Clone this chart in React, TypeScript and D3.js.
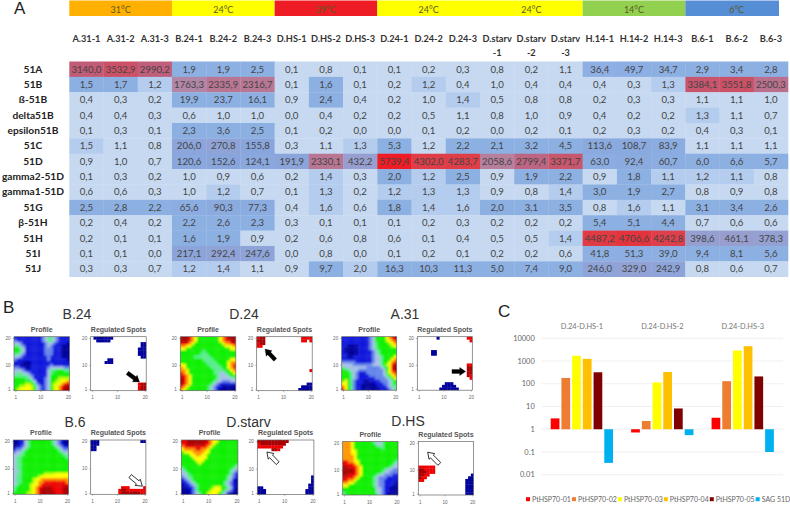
import { useEffect, useRef } from "react";
import * as d3 from "d3";

// ---- panel A data
const conditions = ["31°C", "24°C", "39°C", "24°C", "24°C", "14°C", "6°C"];
const conditionColors = ["#ffb000", "#ffff00", "#ee1c25", "#ffff00", "#ffff00", "#92d050", "#558ed5"];
const conditionSpans = [3, 3, 3, 3, 3, 3, 3];

const samples = [
  "A.31-1", "A.31-2", "A.31-3", "B.24-1", "B.24-2", "B.24-3", "D.HS-1", "D.HS-2", "D.HS-3",
  "D.24-1", "D.24-2", "D.24-3", "D.starv|-1", "D.starv|-2", "D.starv|-3",
  "H.14-1", "H.14-2", "H.14-3", "B.6-1", "B.6-2", "B.6-3",
];
const genes = [
  "51A", "51B", "ß-51B", "delta51B", "epsilon51B", "51C", "51D",
  "gamma2-51D", "gamma1-51D", "51G", "β-51H", "51H", "51I", "51J",
];
const expression = [
  [3140.0, 3532.9, 2990.2, 1.9, 1.9, 2.5, 0.1, 0.8, 0.1, 0.1, 0.2, 0.3, 0.8, 0.2, 1.1, 36.4, 49.7, 34.7, 2.9, 3.4, 2.8],
  [1.5, 1.7, 1.2, 1763.3, 2335.9, 2316.7, 0.1, 1.6, 0.1, 0.2, 1.2, 0.4, 1.0, 0.4, 0.4, 0.4, 0.3, 1.3, 3384.1, 3551.8, 2500.3],
  [0.4, 0.3, 0.2, 19.9, 23.7, 16.1, 0.9, 2.4, 0.4, 0.2, 1.0, 1.4, 0.5, 0.8, 0.8, 0.2, 0.3, 0.3, 1.1, 1.1, 1.0],
  [0.4, 0.4, 0.3, 0.6, 1.0, 1.0, 0.0, 0.4, 0.2, 0.2, 0.5, 1.1, 0.8, 1.0, 0.9, 0.4, 0.2, 0.2, 1.3, 1.1, 0.7],
  [0.1, 0.3, 0.1, 2.3, 3.6, 2.5, 0.1, 0.2, 0.0, 0.0, 0.1, 0.2, 0.0, 0.2, 0.1, 0.2, 0.3, 0.2, 0.4, 0.3, 0.1],
  [1.5, 1.1, 0.8, 206.0, 270.8, 155.8, 0.3, 1.1, 1.3, 5.3, 1.2, 2.2, 2.1, 3.2, 4.5, 113.6, 108.7, 83.9, 1.1, 1.1, 1.1],
  [0.9, 1.0, 0.7, 120.6, 152.6, 124.1, 191.9, 2330.1, 432.2, 5739.4, 4302.0, 4283.7, 2058.6, 2799.4, 3371.7, 63.0, 92.4, 60.7, 6.0, 6.6, 5.7],
  [0.1, 0.3, 0.2, 1.0, 0.9, 0.6, 0.2, 1.4, 0.3, 2.0, 1.2, 2.5, 0.9, 1.9, 2.2, 0.9, 1.8, 1.1, 1.2, 1.1, 0.8],
  [0.6, 0.6, 0.3, 1.0, 1.2, 0.7, 0.1, 1.3, 0.2, 1.2, 1.3, 1.3, 0.9, 0.8, 1.4, 3.0, 1.9, 2.7, 0.8, 0.9, 0.8],
  [2.5, 2.8, 2.2, 65.6, 90.3, 77.3, 0.4, 1.6, 0.6, 1.8, 1.4, 1.6, 2.0, 3.1, 3.5, 0.8, 1.6, 1.1, 3.1, 3.4, 2.6],
  [0.2, 0.4, 0.2, 2.2, 2.6, 2.3, 0.3, 0.1, 0.1, 0.1, 0.2, 0.3, 0.2, 0.2, 0.2, 5.4, 5.1, 4.4, 0.7, 0.6, 0.6],
  [0.2, 0.1, 0.1, 1.6, 1.9, 0.9, 0.2, 0.6, 0.8, 0.6, 0.1, 0.4, 0.5, 0.5, 1.4, 4487.2, 4706.6, 4242.8, 398.6, 461.1, 378.3],
  [0.1, 0.1, 0.0, 217.1, 292.4, 247.6, 0.0, 0.8, 0.0, 0.1, 0.2, 0.1, 0.2, 0.2, 0.6, 41.8, 51.3, 39.0, 9.4, 8.1, 5.6],
  [0.3, 0.3, 0.7, 1.2, 1.4, 1.1, 0.9, 9.7, 2.0, 16.3, 10.3, 11.3, 5.0, 7.4, 9.0, 246.0, 329.0, 242.9, 0.8, 0.6, 0.7],
];
// the shading of small values differs per gene: [pale -> light, light -> medium]
const geneSteps = [
  [1.5, 1.5], [1.1, 1.45], [1.2, 2], [1.2, 2], [1, 1], [1.25, 2], [2, 2],
  [1.1, 1.7], [1.15, 1.8], [1.3, 1.75], [1.5, 1.5], [1.2, 1.5], [2, 2], [1.15, 2.5],
];

// ---- panel B data, rows run from y=20 down to y=1, hex digit = colour level
const profiles = {
  "B.24": [
    "11111111112344321111", "21111111112344321111", "33211111111233211110", "44321111111232111000",
    "55431111111222111000", "55431111111222111000", "44321111111222111000", "33211111111121111000",
    "21111111111121111110", "11100011111111111111", "11000011111112111111", "22110011111123333322",
    "33321111111134455544", "34433211111134555555", "44444321111135555555", "55554431111235556666",
    "55555543111235566778", "55556654211235667899", "55667765321235678" + "9aa", "56777765321235678" + "9aa",
  ],
  "D.24": [
    "aaa98755555555789aaa", "aaa987555555557899aa", "99987555555555578899", "88775555555555557778",
    "77555555555555555577", "55555555455555555555", "55555554445555555555", "55555444444555555555",
    "55555555444455555577", "55555555544445555788", "77555555554444555789", "87555555555444455789",
    "88755555555544445578", "98755555555544334557", "99875555555554333455", "a9875555555554333334",
    "a9875555555543322233", "a9875555555432111111", "98755555554321100000", "87555555554321000000",
  ],
  "A.31": [
    "111111111123555" + "5789a", "11111111112355556789", "11111111112345555678", "11000011112345555567",
    "10000011112345555555", "10000011111234555555", "11000011111234555555", "11001111111233455557",
    "11111111111233455578", "22222111111233455789", "33332222222333456" + "79a", "43333333322222345" + "79a",
    "55433322222222235" + "79a", "55543211122222235789", "55543211112222234578", "55543211111122223457",
    "57542111001111222345", "77542111000011122345", "87542110000001112344", "97542110000000111234",
  ],
  "B.6": [
    "00113455555555432100", "00113455555555432100", "01123455555555543211", "12234555555555554322",
    "23345555555555555433", "33445555555555555544", "34455555555555555554", "34455555555555555555",
    "34455555555555555555", "34455555555555555555", "34455555555555555555", "33455555555555555555",
    "34455555555666677777", "34455555567777777777", "34455556778888888888", "34455556788999999998",
    "34555567789999999999", "4555556789" + "9aaa9999aa", "4555556789" + "aaaa9999aa", "5555566789" + "aaaaa999aa",
  ],
  "D.starv": [
    "99aaaaaaa98775555555", "99aaaaaa998755555555", "89999999987555555555", "78888998875555555555",
    "57778888775555555555", "55577887755555555555", "55557777755555555555", "55555777555555555555",
    "55555575555555555555", "55555555555555555554", "45555555555555555543", "34555555555555555432",
    "33455555555555555421", "23445555555555554321", "12345555555555554310", "11234555555555543210",
    "01123455555555543210", "00112455555677554310", "00012455556777543210", "00012345567775431000",
  ],
  "D.HS": [
    "88875555555433455555", "88875555555543455555", "88875555555555455555", "88877555555555555555",
    "88877555555555555555", "88887555555555555555", "88887555555555555555", "99887755555555555554",
    "99998755555555555543", "aa999875555555555433", "aaaa9875555555543322", "aaaa9875555555433222",
    "aa999875555543322211", "99998755555432221111", "99887555555432211111", "88775555555432211110",
    "77555555555432211100", "55555555555533211000", "55555555555533211000", "45555555555543210000",
  ],
};
const blankRow = "....................";
const regulated = {
  "B.24": [
    ".0000000............", "..00000.............", "..................00", "..................00",
    ".................000", ".................000", ".................000", "..................00",
    "......00............", ".....000............", blankRow, blankRow, blankRow, blankRow, blankRow, blankRow, blankRow,
    ".................9aa", ".................9aa", ".................9aa",
  ],
  "D.24": [
    "9aa.............9999", "aaa.............99.9", "9aa.................", "99..................",
    blankRow, blankRow, blankRow, blankRow, blankRow, blankRow, blankRow, blankRow,
    "...................9", blankRow, blankRow, blankRow, blankRow,
    "..................00", "................0000", "...............00000",
  ],
  "A.31": [
    ".......0..........99", "...................9", blankRow, blankRow, blankRow,
    ".....00.............", ".....00.............", blankRow, blankRow, blankRow,
    "..................99", "..................aa", "..................aa", "..................aa",
    "..................a9", "...................9", blankRow,
    "..........000.......", ".........00000......", "........0000000.....",
  ],
  "B.6": [
    "000...............00", "000.................", "00..................", "00..................",
    blankRow, blankRow, blankRow, blankRow, blankRow, blankRow, blankRow, blankRow, blankRow, blankRow, blankRow, blankRow, blankRow,
    "...........999.....9", "..........9aa9999999", "..........9aaaaaaa99",
  ],
  "D.starv": [
    "aaaaaaaaaaa.........", "9aaaaaaaaa..........", "999999999...........", ".....aa9............",
    blankRow, blankRow, blankRow, blankRow, blankRow, blankRow, blankRow, blankRow, blankRow,
    "...................0", "...................0", "...................0", "..................00",
    "00................00", "000..............000", "000..............000",
  ],
  "D.HS": [
    blankRow, blankRow, blankRow, blankRow, blankRow, blankRow, blankRow, blankRow, blankRow,
    "999999..............", "aa9999..............", "aaa999..............",
    "aa99...............0", "a99...............00", "99...............000",
    ".................000", ".................000", ".................000", ".................000", ".................000",
  ],
};
const levelColors = [
  "#00009c", "#0c14dc", "#6484ea", "#a6c0e8", "#58ec8c", "#08f000",
  "#c4ff00", "#ffff00", "#ff9400", "#ee0000", "#a80000",
];
const spotAxisTicks = [1, 10, 20];

// arrows in grid cells of the regulated panel: [tailX, tailY, tipX, tipY]
const arrows = {
  "B.24": [13.2, 13.4, 17.6, 16.8],
  "D.24": [6.7, 8.6, 3.0, 4.6],
  "A.31": [12.6, 13, 17.6, 13],
  "B.6": [14.3, 13.3, 18.7, 17],
  "D.starv": [7.2, 8.5, 3.4, 4.4],
  "D.HS": [7.6, 8.4, 3.4, 4],
};
const openArrows = ["B.6", "D.starv", "D.HS"];

// ---- panel C data
const contrasts = ["D.24-D.HS-1", "D.24-D.HS-2", "D.24-D.HS-3"];
const hspSeries = ["PtHSP70-01", "PtHSP70-02", "PtHSP70-03", "PtHSP70-04", "PtHSP70-05", "SAG 51D"];
const hspColors = ["#ff0000", "#ed7d31", "#ffff00", "#ffc000", "#7f0000", "#00b0f0"];
const foldChanges = [
  [3, 180, 1700, 1250, 320, 0.033],
  [0.72, 2.3, 115, 330, 8.2, 0.55],
  [3.2, 130, 2900, 4500, 210, 0.1],
];
const foldTicks = [10000, 1000, 100, 10, 1, 0.1, 0.01];

const LATO = "Lato, sans-serif";
const ARIAL = "'Liberation Sans', Arial, sans-serif";

// ---- panel A
const cellFormat = d3.formatLocale({
  decimal: ",", thousands: "", grouping: [3], currency: ["", ""],
}).format(".1f");

const highColor = d3
  .scaleLinear<string>()
  .domain([30, 150, 450, 2000, 3000, 4300, 5740])
  .range(["#8db0e3", "#89a6dc", "#989fcf", "#b5829f", "#bf5f7c", "#df3e48", "#ee1c25"])
  .clamp(true);

function cellColor(value: number, row: number) {
  if (value >= 30) return highColor(value);
  const [a, b] = geneSteps[row];
  if (value >= b) return "#8db0e3";
  if (value >= a) return "#b4ccee";
  return "#c6d9f1";
}

function PanelA() {
  const x = d3.scaleBand().domain(samples).range([69.3, 788]);
  const y = d3.scaleBand().domain(genes).range([61.5, 276.7]);
  const band = x.bandwidth();
  let start = 0;
  return (
    <g>
      <text x={14} y={14} fontFamily={ARIAL} fontSize={17} fill="#222">A</text>
      {conditions.map((c, i) => {
        const from = x(samples[start]);
        start += conditionSpans[i];
        const to = i === conditions.length - 1 ? 779 : x(samples[start]);
        return (
          <g key={i}>
            <rect x={from} y={0.5} width={to - from} height={15.5} fill={conditionColors[i]} />
            <text x={(from + from + conditionSpans[i] * band) / 2} y={12.5} textAnchor="middle"
              fontFamily={LATO} fontSize={9} fill="#5a5a20">{c}</text>
          </g>
        );
      })}
      {samples.map((s) => (
        <text key={s} x={x(s) + band / 2} y={41.5} textAnchor="middle" fontFamily={LATO}
          fontWeight={700} fontSize={9.2} fill="#333">
          {s.split("|").map((part, i) => (
            <tspan key={i} x={x(s) + band / 2} dy={i ? 14 : 0}>{part}</tspan>
          ))}
        </text>
      ))}
      {genes.map((g, r) => (
        <g key={g}>
          <text x={33} y={y(g) + 11} textAnchor="middle" fontFamily={LATO} fontWeight={700}
            fontSize={10.2} fill="#222">{g}</text>
          {samples.map((s, c) => (
            <rect key={s} x={x(s)} y={y(g)} width={band + 0.3} height={y.bandwidth() + 0.3}
              fill={cellColor(expression[r][c], r)} />
          ))}
          {samples.map((s, c) => (
            <text key={s} x={x(s) + band / 2} y={y(g) + 11} textAnchor="middle" fontFamily={LATO}
              fontSize={9.6} fill="#444">{cellFormat(expression[r][c])}</text>
          ))}
        </g>
      ))}
    </g>
  );
}

// ---- panel B
const cellIndex = d3.range(20);

function SpotAxes({ w, h }: { w: number; h: number }) {
  const ref = useRef<SVGGElement>(null);
  useEffect(() => {
    const g = d3.select(ref.current);
    const xTicks = d3.scaleLinear().domain([0.5, 20.5]).range([0, w]);
    const yTicks = d3.scaleLinear().domain([0.5, 20.5]).range([h, 0]);
    g.selectAll("*").remove();
    const style = (sel: any) => {
      sel.select(".domain").remove();
      sel.selectAll("line").attr("stroke", "#777").attr("stroke-width", 0.5);
      sel.selectAll("text").attr("fill", "#666").attr("font-size", 4.6).attr("font-family", ARIAL);
    };
    g.append("g").attr("transform", `translate(0,${h})`)
      .call(d3.axisBottom(xTicks).tickValues(spotAxisTicks).tickSize(1.5).tickPadding(4))
      .call(style);
    g.append("g")
      .call(d3.axisLeft(yTicks).tickValues(spotAxisTicks).tickSize(1.5).tickPadding(2))
      .call(style);
  }, [w, h]);
  return <g ref={ref} />;
}

function GridBox({ id, title, rows, x0, y0, w, h, blur, arrow, open }: any) {
  const x = d3.scaleBand<number>().domain(cellIndex).range([0, w]);
  const y = d3.scaleBand<number>().domain(cellIndex).range([0, h]);
  const gx = d3.scaleLinear().domain([0, 20]).range([0, w]);
  const gy = d3.scaleLinear().domain([0, 20]).range([0, h]);

  let arrowPath = null;
  if (arrow) {
    const [tx, ty, px, py] = arrow;
    const x1 = gx(tx), y1 = gy(ty), x2 = gx(px), y2 = gy(py);
    const len = Math.hypot(x2 - x1, y2 - y1);
    const ux = (x2 - x1) / len, uy = (y2 - y1) / len;
    const nx = -uy, ny = ux;
    const pt = (along: number, side: number) =>
      `${x1 + ux * along + nx * side},${y1 + uy * along + ny * side}`;
    const neck = len - 6;
    arrowPath = `M${pt(0, -2)}L${pt(neck, -2)}L${pt(neck, -4)}L${pt(len, 0)}L${pt(neck, 4)}L${pt(neck, 2)}L${pt(0, 2)}Z`;
  }

  return (
    <g transform={`translate(${x0},${y0})`}>
      <text x={w / 2} y={-5} textAnchor="middle" fontFamily={ARIAL} fontWeight={700}
        fontSize={7} fill="#555">{title}</text>
      <clipPath id={`clip-${id}`}><rect width={w} height={h} /></clipPath>
      <rect width={w} height={h} fill="#fff" />
      <g clipPath={`url(#clip-${id})`}>
        <g filter={`url(#${blur})`}>
          {rows.map((row: string, r: number) =>
            cellIndex.map((c) => {
              const ch = row[c];
              if (!ch || ch === ".") return null;
              // outer cells run past the box so the blur does not fade at the edge
              const left = c === 0 ? 3 : 0;
              const right = c === 19 ? 3 : 0;
              const top = r === 0 ? 3 : 0;
              const bottom = r === 19 ? 3 : 0;
              return (
                <rect key={c} x={x(c) - left} y={y(r) - top}
                  width={x.bandwidth() + 0.3 + left + right}
                  height={y.bandwidth() + 0.3 + top + bottom}
                  fill={levelColors[parseInt(ch, 16)]} />
              );
            }),
          )}
        </g>
      </g>
      <rect width={w} height={h} fill="none" stroke="#666" strokeWidth={0.7} />
      <SpotAxes w={w} h={h} />
      {arrowPath && (
        <path d={arrowPath} fill={open ? "#fff" : "#000"} stroke="#000" strokeWidth={open ? 0.8 : 0.3} />
      )}
    </g>
  );
}

const blocks = [
  { name: "B.24", cx: 77, by: 319, px: 14, rx: 90.7, y: 336.7, w: 55.5, h: 54 },
  { name: "D.24", cx: 244, by: 319, px: 180.3, rx: 256.7, y: 336.7, w: 55.5, h: 54 },
  { name: "A.31", cx: 405, by: 319, px: 341.7, rx: 417.3, y: 336.7, w: 55, h: 53.5 },
  { name: "B.6", cx: 75, by: 427, px: 13.3, rx: 90.7, y: 440, w: 55.2, h: 54.3 },
  { name: "D.starv", cx: 248.5, by: 427, px: 181.3, rx: 257.3, y: 440, w: 56.6, h: 54.5 },
  { name: "D.HS", cx: 408, by: 426, px: 342.7, rx: 418.3, y: 441.5, w: 55.3, h: 53.5 },
];

function PanelB() {
  return (
    <g>
      <text x={3} y={313} fontFamily={ARIAL} fontSize={17} fill="#222">B</text>
      {blocks.map((b) => (
        <g key={b.name}>
          <text x={b.cx} y={b.by} textAnchor="middle" fontFamily={ARIAL} fontSize={14} fill="#333">{b.name}</text>
          <GridBox id={`p-${b.name}`} title="Profile" rows={profiles[b.name]} x0={b.px} y0={b.y}
            w={b.w} h={b.h} blur="soft" />
          <GridBox id={`r-${b.name}`} title="Regulated Spots" rows={regulated[b.name]} x0={b.rx} y0={b.y}
            w={b.w} h={b.h} blur="softer" arrow={arrows[b.name]} open={openArrows.includes(b.name)} />
        </g>
      ))}
    </g>
  );
}

// ---- panel C
function PanelC() {
  const y = d3.scaleLog().domain([0.01, 10000]).range([474.7, 338.3]);
  const groups = d3.scaleBand().domain(contrasts).range([541.7, 783]);
  const legendX = d3.scalePoint().domain(hspSeries).range([526, 755.7]);
  return (
    <g>
      <text x={498} y={317} fontFamily={ARIAL} fontSize={17} fill="#222">C</text>
      {foldTicks.map((t) => (
        <g key={t}>
          <line x1={541.7} x2={783} y1={y(t)} y2={y(t)} stroke="#ececec" strokeWidth={0.8} />
          <text x={534.7} y={y(t) + 2.6} textAnchor="end" fontFamily={LATO} fontSize={7.4} fill="#666">{t}</text>
        </g>
      ))}
      {contrasts.map((c, g) => {
        const left = groups(c);
        const inner = d3.scaleBand().domain(hspSeries).range([left + 9, left + 71.3]).paddingInner(0.185);
        return (
          <g key={c}>
            <text x={left + groups.bandwidth() / 2} y={329} textAnchor="middle" fontFamily={LATO}
              fontSize={7.4} fill="#777">{c}</text>
            {hspSeries.map((s, i) => {
              const v = foldChanges[g][i];
              return (
                <rect key={s} x={inner(s)} width={inner.bandwidth()}
                  y={Math.min(y(v), y(1))} height={Math.abs(y(v) - y(1))} fill={hspColors[i]} />
              );
            })}
          </g>
        );
      })}
      {hspSeries.map((s, i) => (
        <g key={s}>
          <rect x={legendX(s)} y={497.2} width={4} height={4} fill={hspColors[i]} />
          <text x={legendX(s) + 6} y={502} fontFamily={LATO} fontSize={7} fill="#666">{s}</text>
        </g>
      ))}
    </g>
  );
}

export default function App() {
  return (
    <svg width={790} height={508} style={{ position: "absolute", left: 0, top: 0, background: "#fff" }}>
      <defs>
        <filter id="soft" x="-10%" y="-10%" width="120%" height="120%">
          <feGaussianBlur stdDeviation={1.1} />
        </filter>
        <filter id="softer" x="-10%" y="-10%" width="120%" height="120%">
          <feGaussianBlur stdDeviation={0.35} />
        </filter>
      </defs>
      <PanelA />
      <PanelB />
      <PanelC />
    </svg>
  );
}
